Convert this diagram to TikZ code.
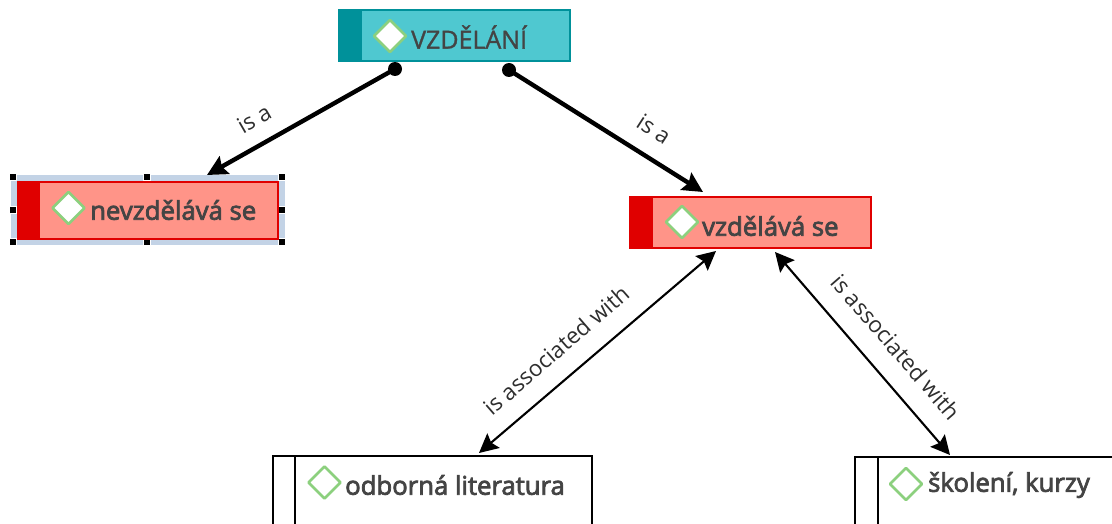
\documentclass[tikz,border=0pt]{standalone}
\usepackage{fontspec}
\setmainfont{Open Sans}
\newfontfamily\boldish{Open Sans}[FakeBold=3]
\newfontfamily\medish{Open Sans}[FakeBold=1.2]
\usetikzlibrary{arrows.meta}
\definecolor{tealfill}{HTML}{4FC8D0}
\definecolor{tealdark}{HTML}{00919A}
\definecolor{redfill}{HTML}{FF9488}
\definecolor{reddark}{HTML}{E00000}
\definecolor{txt}{HTML}{444444}
\definecolor{reltxt}{HTML}{2E2E2E}
\definecolor{selband}{HTML}{C3D3E6}
\definecolor{diam}{HTML}{8CD07E}
\tikzset{
  x=1pt,y=-1pt,
  box/.style={draw=#1,line width=2.2pt,anchor=north west,inner sep=0pt,outer sep=0pt},
  strip/.style={fill=#1,draw=none,anchor=north west,inner sep=0pt,outer sep=0pt},
  diamnd/.style={fill=white,draw=diam,line width=2.8pt,line join=round},
  lab/.style={font=\fontsize{#1}{#1}\selectfont\boldish,text=txt,anchor=west,inner sep=0pt},
  handle/.style={fill=black,draw=white,line width=0.6pt,minimum size=7pt,inner sep=0pt},
  heavy/.style={line width=4.4pt,black,-{Stealth[length=20pt,width=20pt,inset=3pt]}},
  thinlink/.style={line width=2.1pt,black,{Stealth[length=19pt,width=19pt,inset=3pt]}-{Stealth[length=19pt,width=19pt,inset=3pt]}},
  dot/.style={circle,fill=black,minimum size=14pt,inner sep=0pt},
  rel/.style={font=\fontsize{22.5}{22.5}\selectfont,text=reltxt,inner sep=0pt}
}
\newcommand{\dmd}[2]{\draw[diamnd] (#1-16,#2) -- (#1,#2-16) -- (#1+16,#2) -- (#1,#2+16) -- cycle;}
\begin{document}
\begin{tikzpicture}
\useasboundingbox (0,0) rectangle (1112,524);
% selection band
\fill[selband] (11,175) rectangle (285,245);
\foreach \n/\xx/\yy in {h1/13/177,h2/147/177,h3/282/177,h4/13/210,h5/282/210,h6/13/242,h7/147/242,h8/282/242}
  \node[handle] (\n) at (\xx,\yy) {};
% VZDELANI
\node[box=tealdark,fill=tealfill,minimum width=231pt,minimum height=51pt] (edu) at (339,10) {};
\node[strip=tealdark,minimum width=24pt,minimum height=53pt] (edus) at (338,9) {};
\dmd{390}{36}
\node[lab=25,font=\fontsize{25}{25}\selectfont\medish] (edut) at (411,37) {VZDĚLÁNÍ};
% nevzdelava
\node[box=reddark,fill=redfill,minimum width=260pt,minimum height=57pt] (nev) at (18,182) {};
\node[strip=reddark,minimum width=23pt,minimum height=58pt] (nevs) at (17,181) {};
\dmd{68.5}{208}
\node[lab=25.7] (nevt) at (90,210) {nevzdělává se};
% vzdelava
\node[box=reddark,fill=redfill,minimum width=241pt,minimum height=51pt] (vzd) at (630,197) {};
\node[strip=reddark,minimum width=24pt,minimum height=52pt] (vzds) at (629,196) {};
\dmd{682}{222}
\node[lab=25.7] (vzdt) at (702,226) {vzdělává se};
% odborna
\draw[black,line width=2.2pt] (273,526) -- (273,456) -- (592,456) -- (592,526);
\draw[black,line width=2.2pt] (295,456) -- (295,526);
\dmd{324.5}{482.5}
\node[lab=25.7] (odbt) at (345,485) {odborná literatura};
% skoleni
\draw[black,line width=2.2pt] (855,526) -- (855,457) -- (1114,457);
\draw[black,line width=2.2pt] (878,457) -- (878,526);
\dmd{906}{484}
\node[lab=25.7] (skot) at (928,485) {školení, kurzy};
% endpoints
\coordinate (a1) at (395,69);
\coordinate (a2) at (207,175);
\coordinate (b1) at (509,70);
\coordinate (b2) at (703,192);
\coordinate (c1) at (716,251);
\coordinate (c2) at (479,453);
\coordinate (d1) at (775,252);
\coordinate (d2) at (950,455);
\draw[heavy] (a1) -- (a2);
\draw[heavy] (b1) -- (b2);
\node[dot] (da) at (a1) {};
\node[dot] (db) at (b1) {};
\draw[thinlink] (c1) -- (c2);
\draw[thinlink] (d1) -- (d2);
\node[rel,rotate=30] (l1) at (254,119) {is a};
\node[rel,rotate=-33] (l2) at (654,129) {is a};
\node[rel,rotate=41] (l3) at (556,350) {is associated with};
\node[rel,rotate=-49] (l4) at (896,347) {is associated with};
\end{tikzpicture}
\end{document}
